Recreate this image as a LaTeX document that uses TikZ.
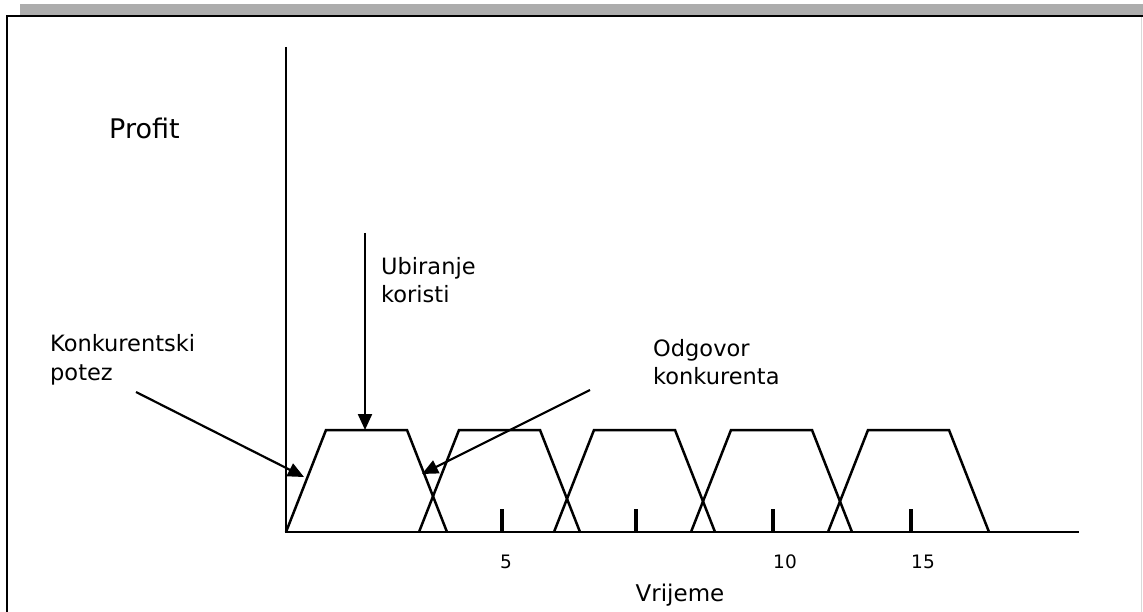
\documentclass[tikz,border=0pt]{standalone}
\usepackage{fontspec}
\setmainfont{DejaVu Sans}
\usetikzlibrary{arrows.meta}
\begin{document}
\begin{tikzpicture}[x=1pt,y=-1pt, line join=miter,
  lbl/.style={anchor=base west, inner sep=0pt, font=\fontsize{22.5}{28}\selectfont},
  num/.style={anchor=base, inner sep=0pt, font=\fontsize{18.5}{22}\selectfont},
  curve/.style={line width=2.5pt},
  axis/.style={line width=2.2pt},
  tickmark/.style={line width=4pt},
  pointer/.style={line width=2.2pt, -{Triangle[length=16pt,width=14pt]}}]
\useasboundingbox (0,0) rectangle (1143,612);
\fill[white] (0,0) rectangle (1143,612);
% frame
\fill[black!32] (20,4) rectangle (1143,15);
\draw[line width=2pt] (1143,16) -- (7,16) -- (7,612);
\draw[black!15, line width=1pt] (1141,17) -- (1141,612);
% axes
\coordinate (top) at (286,47);
\coordinate (O) at (286,532);
\coordinate (xend) at (1079,532);
\draw[axis] (top) -- (O) -- (xend);
% trapezoids
\foreach \L in {286,419,554,691,828}{
  \draw[curve] (\L,532) -- (\L+40,430) -- (\L+121,430) -- (\L+161,532);
}
% ticks
\foreach \t in {502,636,773,911}{
  \draw[tickmark] (\t,509) -- (\t,532);
}
% labels
\node[lbl, font=\fontsize{27}{32}\selectfont] (profit) at (109,139) {Profit};
\node[lbl] (k1) at (50,351) {Konkurentski};
\node[lbl] (k2) at (50,380) {potez};
\node[lbl] (u1) at (381,275) {Ubiranje};
\node[lbl] (u2) at (381,303) {koristi};
\node[lbl] (o1) at (653,356) {Odgovor};
\node[lbl] (o2) at (653,384) {konkurenta};
\node[num] (n5) at (506,568) {5};
\node[num] (n10) at (785,568) {10};
\node[num] (n15) at (923,568) {15};
\node[anchor=base, inner sep=0pt, font=\fontsize{23}{28}\selectfont] (vr) at (680,601) {Vrijeme};
% arrows
\coordinate (ks) at (136,392);
\coordinate (kt) at (304,477);
\coordinate (us) at (365,233);
\coordinate (ut) at (365,430);
\coordinate (os) at (590,390);
\coordinate (ot) at (422,474);
\draw[pointer] (ks) -- (kt);
\draw[pointer] (us) -- (ut);
\draw[pointer] (os) -- (ot);
\end{tikzpicture}
\end{document}
